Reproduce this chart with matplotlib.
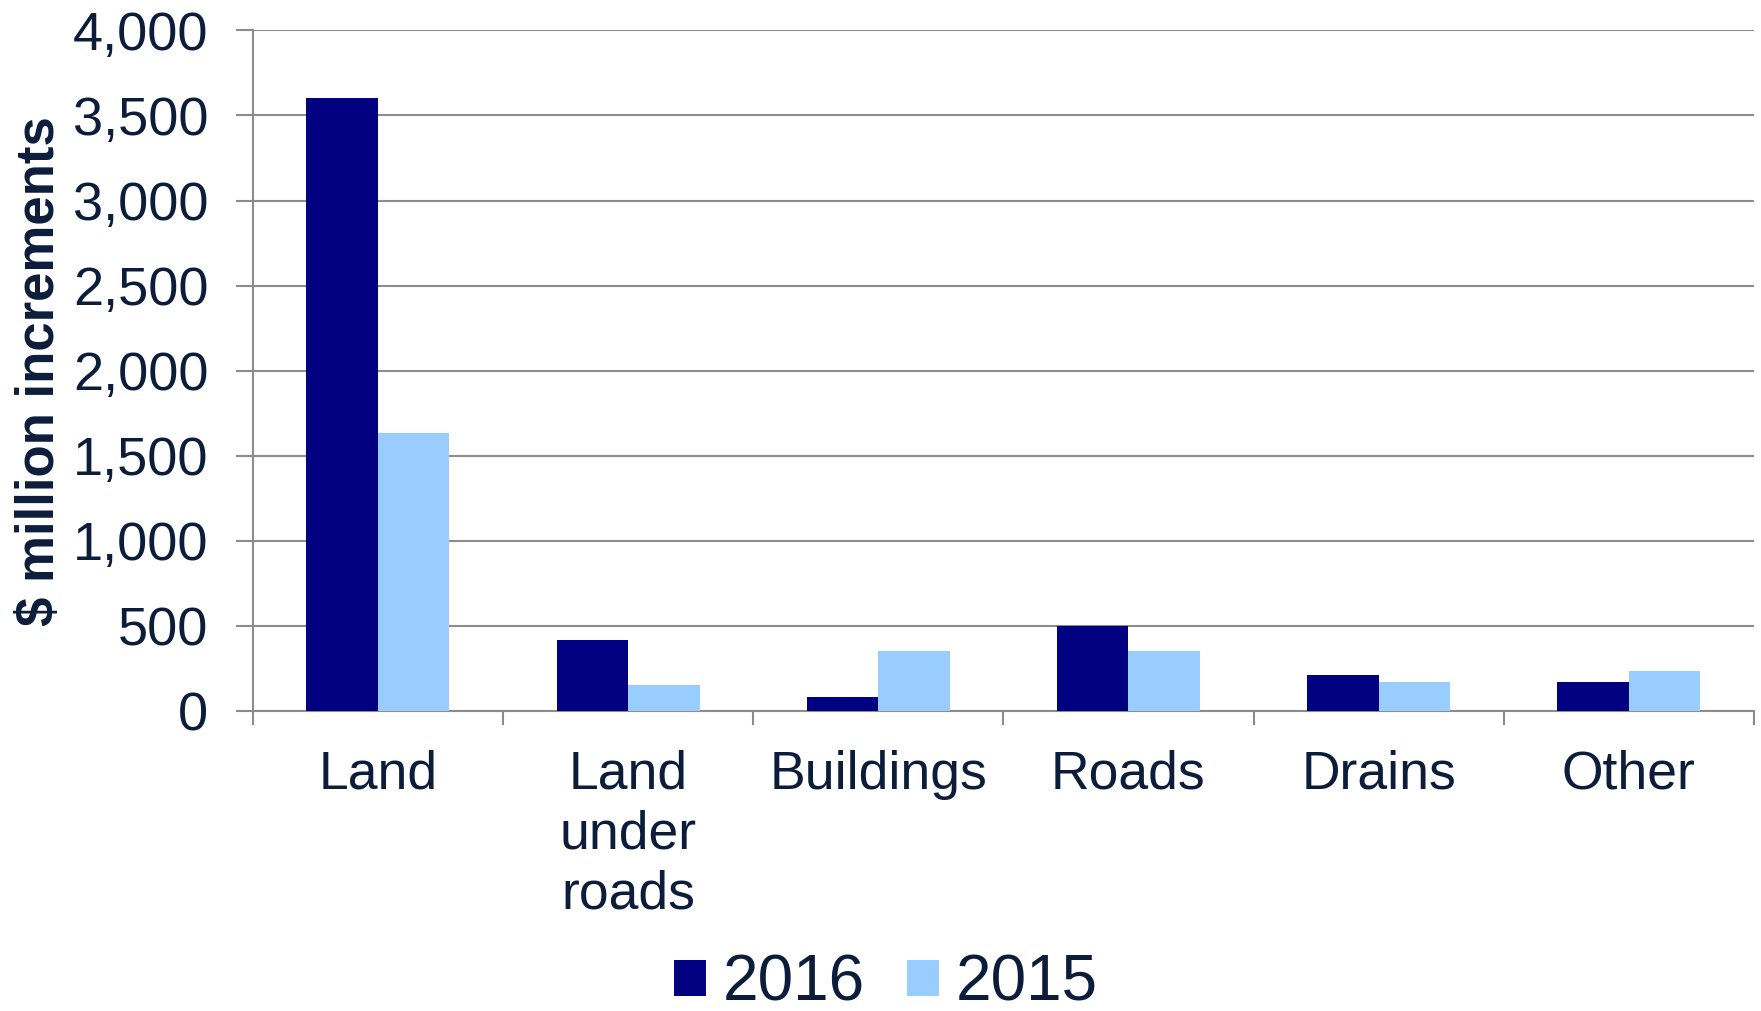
"""Asset revaluation increments by class, 2016 vs 2015 ($ million)."""
import numpy as np
import matplotlib; matplotlib.use("Agg")
import matplotlib.pyplot as plt
from matplotlib.ticker import FuncFormatter, FixedLocator

NAVY, SKY, INK, GRID = "#000080", "#99ccff", "#0b1d3a", "#8c8c8c"

categories = ["Land", "Land\nunder\nroads", "Buildings", "Roads", "Drains", "Other"]
vals_2016 = [3600, 415, 85, 500, 210, 170]
vals_2015 = [1635, 155, 355, 355, 172, 236]

plt.rcParams["font.family"] = ["Liberation Sans", "DejaVu Sans"]


def main():
    fig = plt.figure(figsize=(17.61, 10.11), dpi=100)
    ax = fig.add_axes([0.1435, 0.2967, 0.8525, 0.6733])
    xs = np.arange(len(categories))
    w = 1 / 3.5
    ax.bar(xs - w / 2, vals_2016, w, color=NAVY, label="2016", zorder=3)
    ax.bar(xs + w / 2, vals_2015, w, color=SKY, label="2015", zorder=3)

    ax.set_xlim(-0.5, len(categories) - 0.5)
    ax.set_ylim(0, 4000)
    ax.set_yticks(np.arange(0, 4001, 500))
    ax.yaxis.set_major_formatter(FuncFormatter(lambda v, p: f"{int(v):,}"))
    ax.grid(axis="y", color=GRID, lw=1.5, zorder=0)
    ax.set_axisbelow(True)

    ax.set_xticks(xs)
    ax.set_xticklabels(categories, fontsize=38.5, color=INK, linespacing=1.25, va="top")
    ax.xaxis.set_minor_locator(FixedLocator(np.arange(-0.5, len(categories), 1)))
    ax.tick_params(axis="x", which="major", length=0, pad=28)
    ax.tick_params(axis="x", which="minor", length=10, width=1.5, color=GRID)
    ax.tick_params(axis="y", length=12, width=1.5, color=GRID, pad=20,
                   labelsize=39, labelcolor=INK)

    for sp in ["top", "right"]:
        ax.spines[sp].set_visible(False)
    for sp in ["left", "bottom"]:
        ax.spines[sp].set_color(GRID)
        ax.spines[sp].set_linewidth(1.5)

    ax.set_ylabel("$ million increments", fontsize=38, fontweight="bold",
                  color=INK, labelpad=10)
    ax.yaxis.set_label_coords(-0.125, 0.5)

    fig.legend(loc="center", bbox_to_anchor=(0.503, 0.027), ncol=2, frameon=False,
               fontsize=46, labelcolor=INK, handlelength=0.5, handleheight=0.5,
               handletextpad=0.26, columnspacing=0.66, borderpad=0.1)
    fig.savefig("out.png", dpi=100, facecolor="white")


if __name__ == "__main__":
    main()
